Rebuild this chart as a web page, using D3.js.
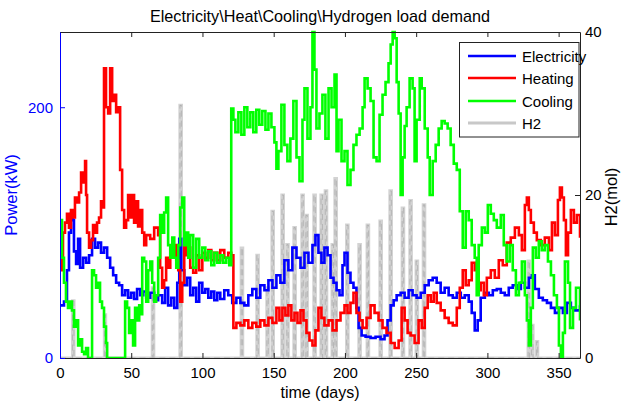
<!DOCTYPE html>
<html><head><meta charset="utf-8">
<script src="https://cdn.jsdelivr.net/npm/d3@7"></script>
<style>body{margin:0;background:#fff}text{font-family:"Liberation Sans",Arial,sans-serif}</style>
</head><body><svg id="c" width="625" height="403"></svg>
<script>
const title = "Electricity\\Heat\\Cooling\\Hydrogen load demand";
const xTicks = [0,50,100,150,200,250,300,350];
const yLeftTicks = [0,200];
const yRightTicks = [0,20,40];
const seriesNames = ["Electricity","Heating","Cooling","H2"];

const elecDays = [0,2.8,4.9,6.3,7.7,9.1,9.8,11.3,12.7,14.1,16.2,18.3,20.4,22.5,24.6,26.7,28.8,30.9,33.1,35.2,37.3,39.4,41.5,43.6,45.7,47.8,49.9,52.0,54.1,56.3,58.4,60.5,63.3,66.1,68.9,71.7,73.8,75.9,78.1,80.2,82.3,83.7,85.1,87.2,89.3,91.4,93.5,95.6,97.7,99.9,102.0,104.1,106.2,108.3,110.4,112.5,115.3,118.1,120.9,123.8,126.6,129.4,132.2,135.0,137.8,140.6,143.5,146.3,149.1,151.9,154.7,157.5,160.3,163.1,166.0,168.8,171.6,174.4,177.2,179.3,181.4,183.5,185.6,187.8,189.9,192.0,194.1,196.2,198.3,199.7,201.8,203.9,206.0,208.1,209.6,211.7,214.5,218.0,221.5,225.0,227.8,229.9,232.1,234.2,236.3,239.1,241.9,244.7,247.5,250.3,253.2,256.0,258.8,261.6,264.4,267.2,270.0,272.8,275.7,278.5,281.3,284.1,286.9,289.0,291.1,293.2,295.3,298.2,301.0,303.8,306.6,309.4,312.2,315.0,317.8,320.7,323.5,326.3,329.1,331.2,333.3,336.1,338.9,341.8,344.6,347.4,350.2,353.0,355.8,358.6,361.4,365];
const elecVals = [42,45,70,100,115,110,85,75,95,72,80,76,82,95,88,92,84,88,80,72,66,60,58,50,54,48,52,47,55,50,53,48,52,46,50,44,56,42,48,40,60,95,70,58,64,50,56,45,60,52,55,48,53,46,52,47,54,50,44,48,44,42,50,55,48,58,54,62,56,66,60,78,70,88,80,72,84,76,90,98,84,76,88,82,64,60,54,50,74,84,68,60,56,40,24,18,17,16,17,15,18,30,42,46,50,52,48,54,50,48,52,58,62,64,60,52,56,50,48,52,48,50,45,36,22,30,48,52,50,54,55,52,50,56,58,55,60,56,64,66,55,48,46,44,40,36,40,36,44,40,38,42];

const heatDays = [0,1.4,2.1,3.5,4.9,6.3,7.7,9.1,10.5,12.0,13.4,14.8,16.2,17.6,18.3,19.0,20.4,21.8,23.2,24.6,26.0,27.4,28.8,30.2,30.9,32.3,33.8,35.2,36.6,38.0,39.4,40.8,42.2,43.6,45.0,46.4,47.8,49.2,50.6,52.0,53.4,54.8,56.3,57.7,59.1,60.5,63.3,66.1,68.9,70.3,71.7,73.1,74.5,75.9,77.4,78.8,80.2,81.6,83.0,84.4,85.8,87.2,88.6,90.0,91.4,93.5,95.6,97.7,99.9,102.0,104.1,106.2,108.3,110.4,112.5,115.3,118.1,120.2,121.7,123.8,126.6,129.4,132.2,135.0,137.8,140.6,143.5,146.3,149.1,151.9,154.0,156.1,158.2,160.3,162.4,164.6,166.7,168.8,170.9,173.0,175.1,177.2,179.3,181.4,183.5,185.6,188.5,191.3,194.1,196.9,199.7,201.8,203.9,206.0,208.1,210.3,212.4,215.2,218.0,220.8,223.6,226.4,229.2,232.1,234.9,237.7,239.8,241.9,244.0,246.1,248.9,251.7,253.9,256.0,258.1,260.2,262.3,264.4,267.2,270.0,272.8,275.7,278.5,280.6,282.7,284.8,286.9,289.0,291.1,293.2,295.3,297.5,299.6,302.4,305.2,308.0,310.8,313.6,316.4,319.3,322.1,324.2,326.3,327.7,329.1,330.5,332.6,334.7,337.5,340.3,343.2,345.3,347.4,349.5,350.9,352.3,353.7,355.1,356.6,358.6,360.7,362.8,365];
const heatVals = [70,80,100,108,115,104,118,112,128,124,132,148,140,157,130,100,88,94,106,100,108,112,125,120,231,200,195,231,205,210,196,200,150,118,104,110,130,112,130,108,125,105,118,100,90,98,95,104,98,72,56,62,80,72,88,84,90,78,70,45,60,90,82,88,72,68,82,70,84,80,86,78,84,78,86,80,84,82,24,28,26,30,24,28,25,30,26,32,28,40,30,40,34,42,30,36,28,38,30,20,14,10,22,40,32,26,30,22,30,36,42,36,44,52,36,30,24,32,42,36,30,24,20,12,8,14,40,30,20,18,12,30,24,40,50,45,52,44,38,32,28,26,40,56,70,58,62,76,70,54,60,50,64,70,64,78,74,92,96,104,98,86,122,128,118,108,100,94,90,96,86,108,98,126,136,128,110,82,100,118,108,114,96];

const coolDays = [0,1.4,2.8,4.2,5.6,7.0,8.4,9.8,11.3,12.7,14.1,15.5,16.9,18.3,19.7,21.8,22.5,23.9,25.3,26.7,28.1,29.5,30.9,32.3,33.1,45.0,45.7,47.1,48.5,49.9,51.3,52.7,54.1,55.6,57.0,57.7,59.1,60.5,61.9,63.3,64.7,66.1,67.5,68.9,70.3,71.7,73.1,74.5,75.9,77.4,78.8,80.2,81.6,83.0,84.4,85.8,87.2,88.6,90.0,91.4,93.5,95.6,97.7,99.9,102.0,104.1,106.2,108.3,110.4,112.5,114.6,116.7,118.8,120.2,121.7,123.1,125.2,127.3,129.4,131.5,133.6,135.7,137.8,139.9,142.0,144.2,146.3,148.4,150.5,151.9,153.3,155.4,157.5,159.6,161.7,163.8,166.0,168.1,170.2,171.6,173.7,175.8,177.2,178.6,180.0,182.1,184.2,186.3,188.5,190.6,192.7,194.1,195.5,197.6,199.7,201.8,203.9,206.0,208.1,210.3,212.4,213.8,215.9,218.0,220.1,222.2,224.3,226.4,228.5,230.6,232.1,233.5,234.9,236.3,237.7,239.1,240.5,241.9,243.3,245.4,247.5,248.9,250.3,252.5,253.9,256.0,258.1,259.5,261.6,263.7,265.8,267.9,270.0,272.1,274.2,276.4,278.5,280.6,282.7,284.8,286.9,289.0,291.1,292.5,293.9,296.1,298.2,300.3,302.4,304.5,306.6,309.4,311.5,313.6,315.7,317.8,320.0,322.1,324.2,326.3,327.7,329.1,330.5,331.9,334.0,336.1,338.2,340.3,342.5,344.6,346.7,348.8,350.2,351.6,353.0,354.4,356.6,358.0,360.1,362.2,365];
const coolVals = [110,80,60,45,40,45,38,25,30,10,15,5,3,8,0,0,70,66,56,60,45,40,25,12,0,0,45,40,20,30,10,40,30,42,35,80,77,45,70,77,60,45,50,80,114,100,116,128,90,80,96,80,72,90,120,128,90,100,80,98,72,95,80,88,78,85,74,84,76,82,76,80,74,199,190,180,196,178,200,184,196,180,198,186,197,182,195,184,172,151,165,202,170,157,175,205,160,141,190,215,175,200,260,230,183,195,210,175,215,200,226,165,190,157,165,138,150,170,178,183,200,223,215,205,160,157,194,210,220,235,250,260,255,220,195,130,160,185,200,223,215,157,190,223,215,183,160,130,157,170,183,189,187,183,170,155,150,117,88,117,110,90,80,50,90,104,100,122,115,110,104,114,90,77,90,70,50,60,77,50,30,10,40,88,80,93,86,90,77,66,50,40,10,0,20,77,60,24,40,56,30];

const h2Days = [0,8.8,9.8,31.2,32,64.8,65.8,84.2,85.2,127.2,128.2,138.2,139.2,145.2,146.2,148.8,149.8,155.8,156.8,159.2,160.2,164.2,165.2,169.8,170.8,172.6,173.6,178.2,179.2,183.2,184.2,186.2,187.2,191,192,193,194,201.2,202.2,209.8,210.8,215.6,216.6,224.6,225.6,231.6,232.6,240.2,241.2,245.6,246.6,250,251,255,256,328.6,329.6,331,332,334.5,335.3,365];
const h2Vals = [0,7,0,5.3,0,8.6,0,31,0,13.5,0,12.6,0,8.6,0,18,0,20,0,13.9,0,16,0,20,0,17.5,0,20,0,20,0,20.5,0,13.9,0,22,0,16.3,0,13.9,0,16.3,0,16.8,0,20.5,0,18.4,0,19.3,0,11.9,0,18.8,0,11.9,0,4,0,2,0,0];

const L=60,R=580,T=32,B=358;
const svg = d3.select("#c");
const x = d3.scaleLinear().domain([0,365]).range([L,R]);
const yL = d3.scaleLinear().domain([0,260]).range([B,T]);
const yR = d3.scaleLinear().domain([0,40]).range([B,T]);
const FS = 15;

svg.append("defs").append("clipPath").attr("id","clip").append("rect")
  .attr("x",L).attr("y",T-2).attr("width",R-L).attr("height",B-T+2);

const plotG = svg.append("g").attr("clip-path","url(#clip)");
const zip = (a,b)=>a.slice(0,Math.min(a.length,b.length)).map((d,i)=>[d,b[i]]);
const lineL = d3.line().x(d=>x(d[0])).y(d=>yL(d[1])).curve(d3.curveStepAfter);
const lineR = d3.line().x(d=>x(d[0])).y(d=>yR(d[1])).curve(d3.curveStepAfter);

const h2Data = zip(h2Days,h2Vals);
plotG.append("path").datum(h2Data).attr("d",lineR)
  .attr("fill","none").attr("stroke","#c4c4c4").attr("stroke-opacity",0.75).attr("stroke-width",3.2);
plotG.append("path").datum(h2Data).attr("d",lineR)
  .attr("fill","none").attr("stroke","#808080").attr("stroke-opacity",0.45).attr("stroke-width",0.8)
  .attr("stroke-dasharray","6,4");
const cols = ["#0000ff","#ff0000","#00ff00"];
[[elecDays,elecVals],[heatDays,heatVals],[coolDays,coolVals]].forEach((s,i)=>{
  plotG.append("path").datum(zip(s[0],s[1])).attr("d",lineL)
   .attr("fill","none").attr("stroke",cols[i]).attr("stroke-width",2.6);
});

const axB = svg.append("g").attr("transform",`translate(0,${B})`)
  .call(d3.axisBottom(x).tickValues(xTicks).tickSizeInner(-5).tickSizeOuter(0).tickPadding(9).tickFormat(d3.format("d")));
const axT = svg.append("g").attr("transform",`translate(0,${T})`)
  .call(d3.axisTop(x).tickValues(xTicks).tickSizeInner(-5).tickSizeOuter(0).tickFormat(""));
const axL = svg.append("g").attr("transform",`translate(${L},0)`)
  .call(d3.axisLeft(yL).tickValues(yLeftTicks).tickSizeInner(-5).tickSizeOuter(0).tickPadding(7));
const axR = svg.append("g").attr("transform",`translate(${R},0)`)
  .call(d3.axisRight(yR).tickValues(yRightTicks).tickSizeInner(-5).tickSizeOuter(0).tickPadding(5));
[axB,axT,axL,axR].forEach(a=>{a.selectAll("text").attr("font-size",FS).attr("font-family","Liberation Sans, Arial");});
[axB,axT,axR].forEach(a=>a.selectAll("path,line").attr("stroke","#222"));
axR.selectAll("text").attr("fill","#000");
axB.selectAll("text").attr("fill","#000");
axL.selectAll("path,line").attr("stroke","#0000ff");
axL.selectAll("text").attr("fill","#0000ff");

svg.append("text").attr("x",320).attr("y",22).attr("text-anchor","middle").attr("font-size",16.2).text(title);
svg.append("text").attr("x",320).attr("y",398).attr("text-anchor","middle").attr("font-size",16).text("time (days)");
svg.append("text").attr("transform",`translate(17,195) rotate(-90)`).attr("text-anchor","middle")
  .attr("font-size",16.5).attr("fill","#0000ff").text("Power(kW)");
svg.append("text").attr("transform",`translate(617,197) rotate(-90)`).attr("text-anchor","middle")
  .attr("font-size",16.5).attr("fill","#000").text("H2(mol)");

const lg = svg.append("g");
lg.append("rect").attr("x",459.5).attr("y",42.5).attr("width",119.5).attr("height",94.5)
  .attr("fill","#fff").attr("stroke","#222");
const lcols = ["#0000ff","#ff0000","#00ff00","#c8c8c8"];
const ly = [56,78,101,123];
seriesNames.forEach((n,i)=>{
  lg.append("line").attr("x1",468).attr("x2",516).attr("y1",ly[i]).attr("y2",ly[i])
    .attr("stroke",lcols[i]).attr("stroke-width",i===3?3:2.6);
  lg.append("text").attr("x",522).attr("y",ly[i]+5.5).attr("font-size",FS).text(n);
});
</script></body></html>
